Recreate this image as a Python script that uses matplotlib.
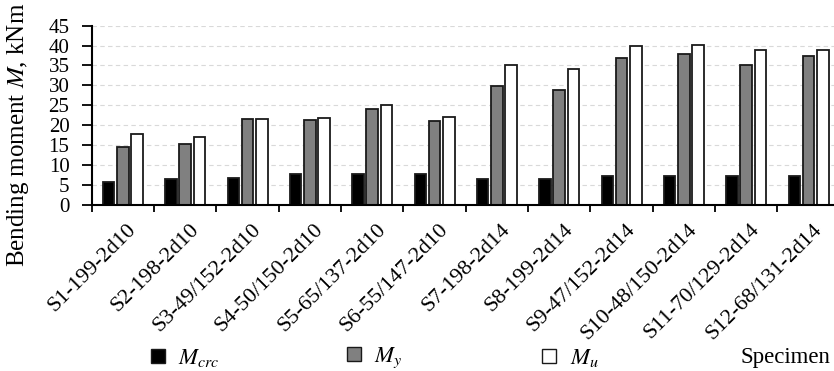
import matplotlib
matplotlib.use("Agg")
import matplotlib.pyplot as plt
import matplotlib.transforms as mtransforms
import numpy as np
from matplotlib.patches import Patch

plt.rcParams['font.family'] = ['Liberation Serif', 'DejaVu Serif']
plt.rcParams['mathtext.fontset'] = 'stix'

specimens = ["S1-199-2d10", "S2-198-2d10", "S3-49/152-2d10", "S4-50/150-2d10",
             "S5-65/137-2d10", "S6-55/147-2d10", "S7-198-2d14", "S8-199-2d14",
             "S9-47/152-2d14", "S10-48/150-2d14", "S11-70/129-2d14", "S12-68/131-2d14"]
M_crc = [5.8, 6.5, 6.7, 7.6, 7.6, 7.6, 6.5, 6.5, 7.1, 7.1, 7.1, 7.1]
M_y = [14.5, 15.2, 21.5, 21.3, 24.1, 21.0, 29.8, 28.9, 36.9, 37.9, 35.1, 37.4]
M_u = [17.7, 17.0, 21.5, 21.8, 25.0, 22.0, 35.1, 34.2, 39.9, 40.2, 38.9, 38.9]
y_ticks = [0, 5, 10, 15, 20, 25, 30, 35, 40, 45]

fig = plt.figure(figsize=(8.34, 3.71), dpi=100)
ax = fig.add_axes([91.7/834, 1-204.7/371, 748/834, 179/371])

x = np.arange(len(specimens))
w = 0.185
off = 0.228
edge = '#1a1a1a'
ax.bar(x - off, M_crc, w, color='black', edgecolor=edge, linewidth=1.3, zorder=3)
ax.bar(x, M_y, w, color='#808080', edgecolor=edge, linewidth=1.3, zorder=3)
ax.bar(x + off, M_u, w, color='white', edgecolor=edge, linewidth=1.3, zorder=3)

ax.set_xlim(-0.5, len(specimens) - 0.5)
ax.set_ylim(0, 45)
ax.set_yticks(y_ticks)
ax.set_yticklabels([str(v) for v in y_ticks], fontsize=15)
ax.yaxis.grid(True, linestyle=(0, (4, 3)), color='#d9d9d9', linewidth=0.8, zorder=0)
ax.set_axisbelow(True)

ax.set_xticks(np.arange(len(specimens) + 1) - 0.5)
ax.set_xticklabels([])
ax.set_xticks(x, minor=True)
ax.set_xticklabels(specimens, minor=True, rotation=45, ha='right', va='top',
                   rotation_mode='anchor', fontsize=16)
ax.tick_params(axis='x', which='minor', length=0, pad=11)
ax.tick_params(axis='x', which='major', direction='out', length=5, width=1.3)
ax.tick_params(axis='y', direction='out', length=7, width=1.3, pad=9)
shift = mtransforms.ScaledTranslation(4/100, 0, fig.dpi_scale_trans)
for lab in ax.get_xticklabels(minor=True):
    lab.set_transform(lab.get_transform() + shift)

for s in ['top', 'right']:
    ax.spines[s].set_visible(False)
for s in ['left', 'bottom']:
    ax.spines[s].set_linewidth(1.5)
    ax.spines[s].set_color('black')
ax.spines['left'].set_zorder(4)
ax.spines['bottom'].set_zorder(4)

fig.text(18/834, 1-135/371, "Bending moment $M$, kNm", rotation=90,
         ha='center', va='center', fontsize=18)
fig.text(740/834, 1-358/371, "Specimen", ha='left', va='center', fontsize=16.5)

entries = [
    (Patch(facecolor='black', edgecolor=edge, linewidth=1.0), r"$M_{crc}$", 151),
    (Patch(facecolor='#808080', edgecolor=edge, linewidth=1.0), r"$M_{y}$", 347),
    (Patch(facecolor='white', edgecolor=edge, linewidth=1.0), r"$M_{u}$", 542),
]
for h, lab, px in entries:
    fig.legend(handles=[h], labels=[lab], loc='center left',
               bbox_to_anchor=(px/834, 1-358/371), frameon=False, fontsize=16.5,
               handlelength=0.6, handleheight=0.6, handletextpad=0.6,
               borderpad=0, borderaxespad=0)

fig.savefig("out.png", dpi=100)
